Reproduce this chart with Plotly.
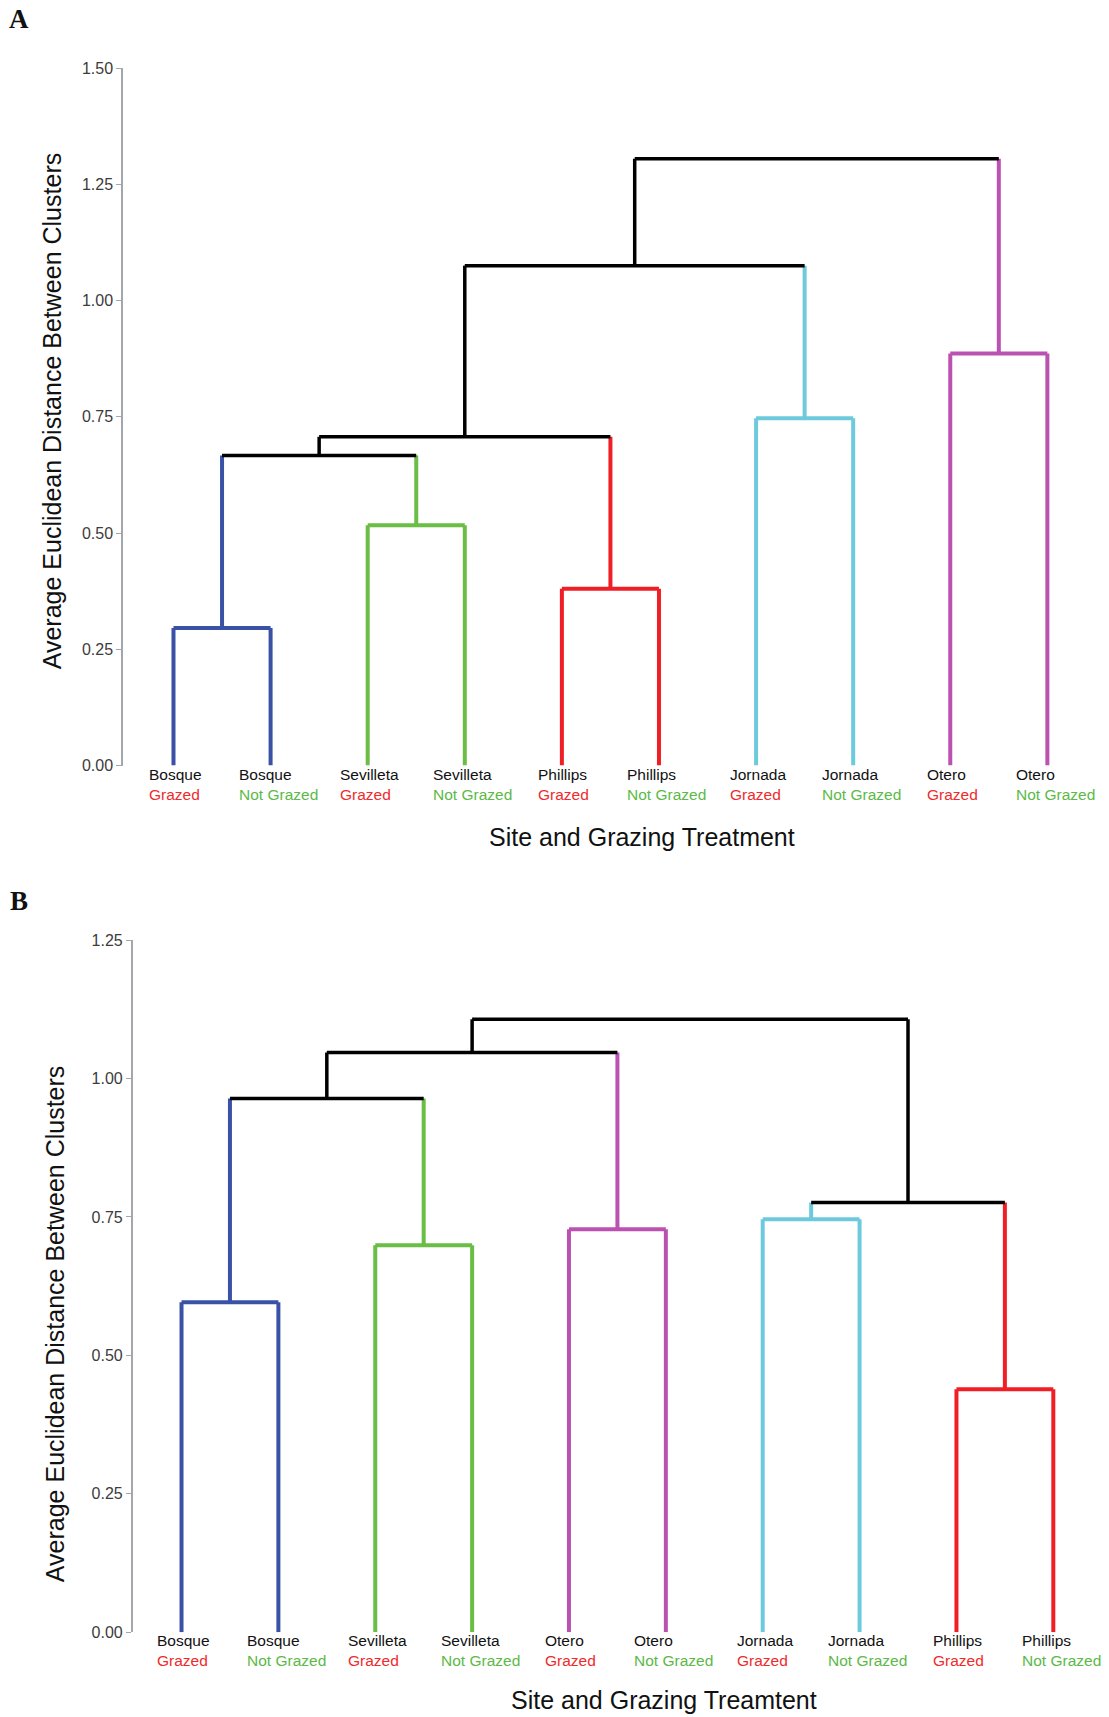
import plotly.graph_objects as go

# ---------------- data ----------------
sites_A = ["Bosque", "Bosque", "Sevilleta", "Sevilleta", "Phillips", "Phillips",
           "Jornada", "Jornada", "Otero", "Otero"]
graze_A = ["Grazed", "Not Grazed"] * 5
merge_left_A = [0, 2, 4, 6, 8, 10, 15, 16, 17]
merge_right_A = [1, 3, 5, 7, 9, 11, 12, 13, 14]
merge_height_A = [0.296, 0.517, 0.380, 0.747, 0.886, 0.667, 0.707, 1.075, 1.305]
merge_color_A = ["blue", "green", "red", "cyan", "magenta", "black", "black", "black", "black"]

sites_B = ["Bosque", "Bosque", "Sevilleta", "Sevilleta", "Otero", "Otero",
           "Jornada", "Jornada", "Phillips", "Phillips"]
graze_B = ["Grazed", "Not Grazed"] * 5
merge_left_B = [0, 2, 4, 6, 8, 10, 15, 13, 16]
merge_right_B = [1, 3, 5, 7, 9, 11, 12, 14, 17]
merge_height_B = [0.596, 0.699, 0.728, 0.746, 0.439, 0.964, 1.047, 0.776, 1.107]
merge_color_B = ["blue", "green", "magenta", "cyan", "red", "black", "black", "black", "black"]

y_ticks_A = [0, 0.25, 0.5, 0.75, 1.0, 1.25, 1.5]
y_ticks_B = [0, 0.25, 0.5, 0.75, 1.0, 1.25]

COLORS = {"blue": "#3a52a6", "green": "#6abd45", "red": "#f01e25",
          "cyan": "#6ccadc", "magenta": "#bb52b2", "black": "#000000"}
GRAZE_COLORS = {"Grazed": "#f02a2a", "Not Grazed": "#5cb947"}
LABEL_XSHIFT = {"Grazed": 2, "Not Grazed": 8}

FONT = "Arial, 'Liberation Sans', sans-serif"
W, H = 1109, 1717


def py(target_px):
    # paper fraction for a vertical pixel position (compensates page offset seen in capture)
    return 1 - (target_px / 0.9908 - 8) / H


def dendro_traces(n_leaves, lefts, rights, heights, colors, xa, ya):
    pos = {i: float(i) for i in range(n_leaves)}
    hgt = {i: 0.0 for i in range(n_leaves)}
    col = {i: None for i in range(n_leaves)}
    segs = {}
    for k, (l, r, h, c) in enumerate(zip(lefts, rights, heights, colors)):
        nid = n_leaves + k
        for child in (l, r):
            vc = col[child] if col[child] is not None else c
            segs.setdefault(vc, []).append(((pos[child], hgt[child]), (pos[child], h)))
        segs.setdefault(c, []).append(((pos[l], h), (pos[r], h)))
        pos[nid] = (pos[l] + pos[r]) / 2
        hgt[nid] = h
        col[nid] = c
    traces = []
    for c, lst in segs.items():
        xs, ys = [], []
        for (x0, y0), (x1, y1) in lst:
            xs += [x0, x1, None]
            ys += [y0, y1, None]
        traces.append(go.Scatter(x=xs, y=ys, mode="lines", xaxis=xa, yaxis=ya,
                                 line=dict(color=COLORS[c], width=4 if c != "black" else 3.5),
                                 hoverinfo="skip", showlegend=False))
    return traces


fig = go.Figure()
for t in dendro_traces(10, merge_left_A, merge_right_A, merge_height_A, merge_color_A, "x", "y"):
    fig.add_trace(t)
for t in dendro_traces(10, merge_left_B, merge_right_B, merge_height_B, merge_color_B, "x2", "y2"):
    fig.add_trace(t)

axis_col = "#a3a7ab"
ycommon = dict(showline=True, linecolor=axis_col, linewidth=1.5, ticks="outside", ticklen=5,
               tickwidth=1.2, tickcolor=axis_col, tickformat=".2f", showgrid=False, zeroline=False,
               tickfont=dict(family=FONT, size=16, color="#3c3c3c"), fixedrange=True)
xcommon = dict(showline=False, ticks="", showgrid=False, zeroline=False, showticklabels=False,
               fixedrange=True)

fig.update_layout(
    width=W, height=H, margin=dict(l=0, r=0, t=0, b=0),
    paper_bgcolor="white", plot_bgcolor="white", showlegend=False,
    xaxis=dict(domain=[123 / W, 1100 / W], range=[-0.520, 9.542], anchor="y", **xcommon),
    yaxis=dict(domain=[py(766), py(68)], range=[0, 1.5], anchor="x",
               tickvals=y_ticks_A, **ycommon),
    xaxis2=dict(domain=[132.7 / W, 1100 / W], range=[-0.504, 9.482], anchor="y2", **xcommon),
    yaxis2=dict(domain=[py(1633.3), py(940.7)], range=[0, 1.25], anchor="x2",
                tickvals=y_ticks_B, **ycommon),
)

# leaf labels: site name (black) over grazing treatment (coloured), lines left-aligned
for xref, yref, sites, graze in (("x", "y", sites_A, graze_A), ("x2", "y2", sites_B, graze_B)):
    for i, (s, g) in enumerate(zip(sites, graze)):
        fig.add_annotation(
            x=i, y=0, xref=xref, yref=yref, xanchor="center", yanchor="top", align="left",
            xshift=LABEL_XSHIFT[g], yshift=2, showarrow=False,
            text=f"{s}<br><span style='color:{GRAZE_COLORS[g]}'>{g}</span>",
            font=dict(family=FONT, size=15.5, color="#111111"))

ann = [
    dict(text="<b>A</b>", x=19 / W, y=py(19), font=dict(family="'Liberation Serif', 'Times New Roman', serif", size=27, color="#111")),
    dict(text="<b>B</b>", x=19 / W, y=py(902), font=dict(family="'Liberation Serif', 'Times New Roman', serif", size=27, color="#111")),
    dict(text="Site and Grazing Treatment", x=641.5 / W, y=py(837.5), font=dict(family=FONT, size=25, color="#111")),
    dict(text="Site and Grazing Treamtent", x=663.5 / W, y=py(1701), font=dict(family=FONT, size=25, color="#111")),
    dict(text="Average Euclidean Distance Between Clusters", x=52 / W, y=py(411.5), textangle=-90,
         font=dict(family=FONT, size=25, color="#111")),
    dict(text="Average Euclidean Distance Between Clusters", x=55 / W, y=py(1325), textangle=-90,
         font=dict(family=FONT, size=25, color="#111")),
]
for a in ann:
    fig.add_annotation(xref="paper", yref="paper", xanchor="center", yanchor="middle",
                       showarrow=False, **a)

fig.write_html("out.html")
